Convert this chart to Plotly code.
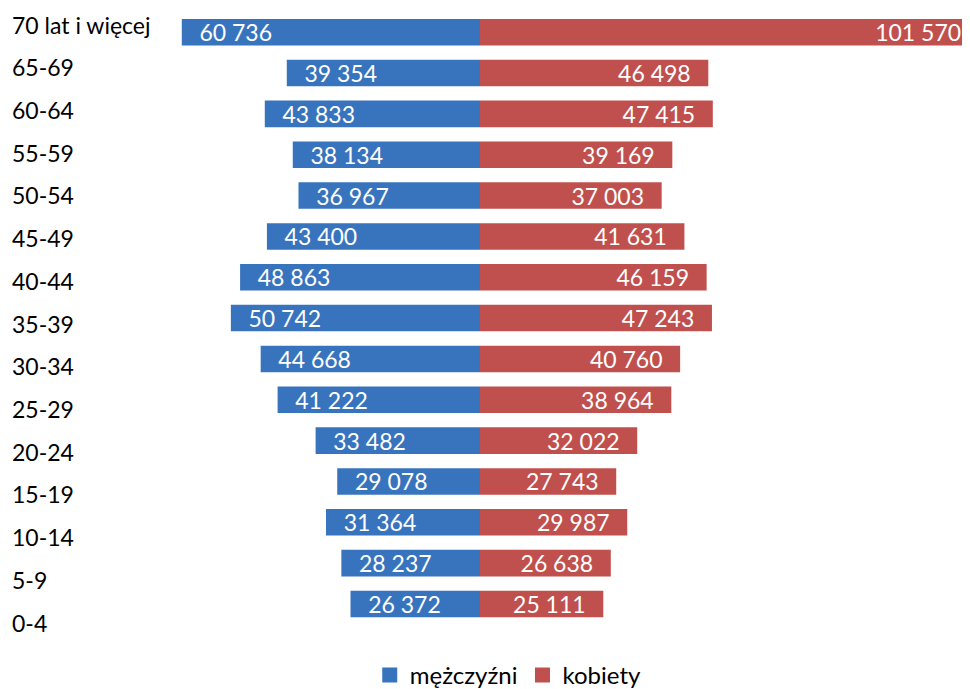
import plotly.graph_objects as go

# Data (top-to-bottom as in the reference)
age_groups = ["70 lat i więcej", "65-69", "60-64", "55-59", "50-54", "45-49", "40-44",
              "35-39", "30-34", "25-29", "20-24", "15-19", "10-14", "5-9", "0-4"]
men = [60736, 39354, 43833, 38134, 36967, 43400, 48863, 50742, 44668, 41222,
       33482, 29078, 31364, 28237, 26372]
women = [101570, 46498, 47415, 39169, 37003, 41631, 46159, 47243, 40760, 38964,
         32022, 27743, 29987, 26638, 25111]

def fmt(v):
    return f"{v:,}".replace(",", " ")

PAD = "\u00a0\u00a0\u2009"
men_text = [PAD + fmt(v) for v in men]
women_text = [fmt(v) + PAD for v in women]

order = list(reversed(age_groups))  # bottom-to-top
FONT = "Lato"
BLUE = "#3874be"
RED = "#c0504d"

fig = go.Figure()
fig.add_trace(go.Bar(
    y=age_groups, x=[-v for v in men], orientation="h", name="mężczyźni",
    marker=dict(color=BLUE, line=dict(width=0)), showlegend=False,
    text=men_text, textposition="inside", insidetextanchor="end",
    constraintext="none", textfont=dict(color="white", size=23, family=FONT),
    hoverinfo="skip",
))
fig.add_trace(go.Bar(
    y=age_groups, x=women, orientation="h", name="kobiety",
    marker=dict(color=RED, line=dict(width=0)), showlegend=False,
    text=women_text, textposition="inside", insidetextanchor="end",
    constraintext="none", textfont=dict(color="white", size=23, family=FONT),
    hoverinfo="skip",
))
# legend entries with square symbols
for nm, col in [("mężczyźni", BLUE), ("kobiety", RED)]:
    fig.add_trace(go.Scatter(
        x=[None], y=[None], mode="markers", name=nm,
        marker=dict(symbol="square", size=15, color=col), hoverinfo="skip",
    ))
# invisible trace carrying the category labels axis
fig.add_trace(go.Scatter(
    y=age_groups, x=[0] * len(age_groups), yaxis="y2", mode="markers",
    marker=dict(opacity=0), showlegend=False, hoverinfo="skip",
))

s = 0.00491  # px per unit
W, H = 962, 681
fig.update_layout(
    width=W, height=H,
    margin=dict(l=0, r=0, t=0, b=0, autoexpand=False),
    paper_bgcolor="white", plot_bgcolor="white",
    barmode="relative", bargap=0.35,
    font=dict(family=FONT, size=23, color="#000000"),
    xaxis=dict(range=[-472 / s, 490 / s], showgrid=False, zeroline=False,
               showticklabels=False, showline=False, fixedrange=True),
    yaxis=dict(categoryorder="array", categoryarray=order,
               range=[-2.082, 14.5925], showticklabels=False, showgrid=False,
               zeroline=False, showline=False, ticks=""),
    yaxis2=dict(categoryorder="array", categoryarray=order, overlaying="y",
                anchor="free", position=0, side="left",
                range=[-1.533, 14.41], showgrid=False, zeroline=False,
                showline=False, ticks="", ticklabelposition="inside",
                ticklabelstandoff=0,
                tickfont=dict(family=FONT, size=23, color="#000000")),
    legend=dict(orientation="h", x=0.52, xanchor="center", y=-0.013, yanchor="bottom",
                font=dict(family=FONT, size=24, color="#000000"),
                traceorder="normal"),
    showlegend=True,
)

fig.write_html("out.html")
